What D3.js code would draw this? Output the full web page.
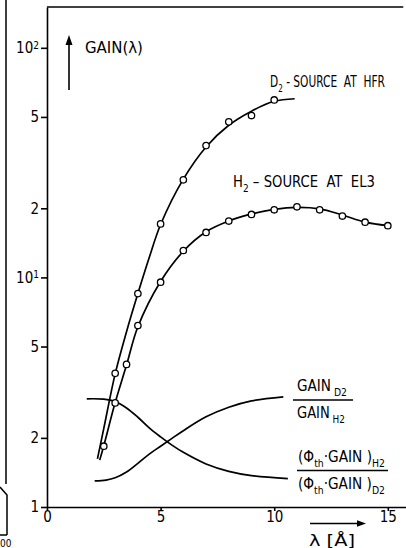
<!DOCTYPE html>
<html>
<head>
<meta charset="utf-8">
<script src="https://cdnjs.cloudflare.com/ajax/libs/d3/7.8.5/d3.min.js"></script>
<style>
body {margin:0; background:#fff;}
svg {font-family: "Liberation Sans Narrow", "DejaVu Sans Condensed", "Liberation Sans", sans-serif;}
text {fill:#000; white-space: pre;}
.axis path, .axis line {stroke:#000; stroke-width:1.6;}
.curve {fill:none; stroke:#000; stroke-width:1.7;}
.pt {fill:#fff; stroke:#000; stroke-width:1.3;}
</style>
</head>
<body>
<svg width="406" height="548"></svg>
<script>
// measured points (open circles)
var lamD2 = [3, 4, 5, 6, 7, 8, 9, 10];
var gainD2 = [3.82, 8.5, 17.1, 26.6, 37.5, 47.6, 50.7, 59.3];
var lamH2 = [2.5, 3, 3.5, 4, 5, 6, 7, 8, 9, 10, 11, 12, 13, 14, 15];
var gainH2 = [1.84, 2.84, 4.18, 6.17, 9.53, 13.1, 15.7, 17.6, 18.8, 19.7, 20.3, 19.7, 18.5, 17.4, 16.8];

// smooth curves as drawn
var fitLamD2 = [2.22, 2.5, 3, 3.5, 4, 4.5, 5, 6, 7, 8, 9, 10, 10.9];
var fitD2 = [1.62, 2.2, 3.8, 5.8, 8.5, 12.2, 17, 26.8, 37, 46, 53, 58.5, 60];
var fitLamH2 = [2.32, 2.5, 3, 3.5, 4, 5, 6, 7, 8, 9, 10, 11, 12, 13, 14, 15];
var fitH2 = [1.6, 1.85, 2.85, 4.15, 6.1, 9.6, 13, 15.8, 17.6, 18.9, 19.8, 20.2, 19.9, 18.7, 17.4, 16.8];

// ratio curves
var lamGainRatio = [2.1, 2.6, 3.0, 3.5, 4.0, 4.5, 5.0, 5.5, 6.0, 7.0, 8.0, 9.0, 10.4];
var gainRatio = [1.30, 1.31, 1.34, 1.42, 1.55, 1.70, 1.84, 1.99, 2.15, 2.47, 2.72, 2.90, 3.02];
var lamPhiRatio = [1.75, 2.5, 3.0, 3.5, 4.0, 4.5, 5.0, 5.5, 6.0, 7.0, 8.0, 9.0, 10.6];
var phiRatio = [2.96, 2.95, 2.88, 2.70, 2.46, 2.21, 2.02, 1.86, 1.73, 1.54, 1.43, 1.37, 1.33];

var yTicks = [1, 2, 5, 10, 20, 50, 100];
var yTickLabels = ["1", "2", "5", "10", "2", "5", "10"];
var yTickSup = ["", "", "", "1", "", "", "2"];
var xTicks = [0, 5, 10, 15];

var svg = d3.select("svg");
var x = d3.scaleLinear().domain([0, 15.8]).range([47, 406]);
var y = d3.scaleLog().domain([1, 150.6]).range([507, 7]);

// frame top
svg.append("line").attr("x1", x(0)).attr("x2", x(15.68)).attr("y1", 7).attr("y2", 7)
   .attr("stroke", "#000").attr("stroke-width", 1.6);

var yAxis = svg.append("g").attr("class", "axis").attr("transform", "translate(" + x(0) + ",0)")
   .call(d3.axisLeft(y).tickValues(yTicks).tickSize(6).tickSizeOuter(0).tickPadding(2)
     .tickFormat(function(d, i) { return yTickLabels[i]; }));
yAxis.attr("font-family", null).attr("font-size", 15);
yAxis.selectAll(".tick text").each(function(d, i) {
  if (yTickSup[i]) {
    d3.select(this).append("tspan").attr("dy", "-0.45em").attr("font-size", 10).text(yTickSup[i]);
  }
});

var xAxis = svg.append("g").attr("class", "axis").attr("transform", "translate(0," + y(1) + ")")
   .call(d3.axisBottom(x).tickValues(xTicks).tickSize(4).tickSizeOuter(0).tickPadding(0));
xAxis.attr("font-family", null).attr("font-size", 15);

// curves
var line = d3.line().curve(d3.curveCatmullRom.alpha(0.5));
function draw(lams, vals) {
  svg.append("path").attr("class", "curve")
     .attr("d", line(lams.map(function(l, i) { return [x(l), y(vals[i])]; })));
}
draw(fitLamD2, fitD2);
draw(fitLamH2, fitH2);
draw(lamGainRatio, gainRatio);
draw(lamPhiRatio, phiRatio);

function dots(lams, vals) {
  svg.append("g").selectAll("circle").data(lams).enter().append("circle")
     .attr("class", "pt").attr("r", 3.2)
     .attr("cx", function(d) { return x(d); })
     .attr("cy", function(d, i) { return y(vals[i]); });
}
dots(lamD2, gainD2);
dots(lamH2, gainH2);

// text helper: parts = [[text, isSub], ...], squeezed to width w
function label(px, py, w, size, parts) {
  var g = svg.append("g");
  var t = g.append("text").attr("font-size", size);
  var shift = 0;
  parts.forEach(function(p) {
    var want = p[1] ? size * 0.3 : 0;
    t.append("tspan").attr("dy", want - shift).attr("font-size", p[1] ? size * 0.68 : size).text(p[0]);
    shift = want;
  });
  var bw = t.node().getBBox().width;
  g.attr("transform", "translate(" + px + "," + py + ") scale(" + (w / bw) + ",1)");
}

label(85, 52.5, 58, 16, [["GAIN(λ)", 0]]);
label(270, 87, 115, 16, [["D", 0], ["2", 1], [" - SOURCE  AT  HFR", 0]]);
label(233, 187, 142, 16, [["H", 0], ["2", 1], [" – SOURCE  AT  EL3", 0]]);

label(297, 391, 50, 15, [["GAIN", 0], [" D", 1], ["2", 1]]);
label(297, 418, 48, 15, [["GAIN", 0], [" H", 1], ["2", 1]]);
label(298, 462, 87, 15, [["(Φ", 0], ["th", 1], ["·GAIN )", 0], ["H2", 1]]);
label(298, 489, 87, 15, [["(Φ", 0], ["th", 1], ["·GAIN )", 0], ["D2", 1]]);
label(309, 546, 46, 16, [["λ [Å]", 0]]);

// fraction bars
svg.append("line").attr("x1", 293).attr("x2", 353).attr("y1", 400).attr("y2", 400)
   .attr("stroke", "#000").attr("stroke-width", 1.4);
svg.append("line").attr("x1", 297).attr("x2", 388).attr("y1", 470.5).attr("y2", 470.5)
   .attr("stroke", "#000").attr("stroke-width", 1.4);

// arrows
svg.append("line").attr("x1", 69).attr("x2", 69).attr("y1", 90).attr("y2", 43)
   .attr("stroke", "#000").attr("stroke-width", 1.6);
svg.append("path").attr("d", "M69,35L65.5,45L72.5,45Z").attr("fill", "#000");
svg.append("line").attr("x1", 310).attr("x2", 358).attr("y1", 523.5).attr("y2", 523.5)
   .attr("stroke", "#000").attr("stroke-width", 1.4);
svg.append("path").attr("d", "M366,523.5L357,520.3L357,526.7Z").attr("fill", "#000");

// edge of neighbouring page in the scan
svg.append("path").attr("d", "M6,0L6,484M0,487L7,495L7,535M0,535L7,535")
   .attr("fill", "none").attr("stroke", "#000").attr("stroke-width", 1.5);
svg.append("text").attr("x", 0).attr("y", 547).attr("font-size", 10).text("00");
</script>
</body>
</html>
